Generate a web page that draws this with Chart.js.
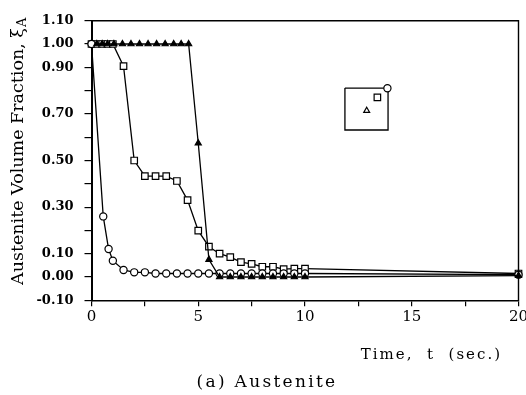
<!DOCTYPE html>
<html><head><meta charset="utf-8">
<script src="https://cdn.jsdelivr.net/npm/chart.js@4.4.0/dist/chart.umd.min.js"></script>
<style>html,body{margin:0;padding:0;background:#fff}#wrap{width:526px;height:395px;position:relative}</style>
</head><body><div id="wrap"><canvas id="c"></canvas></div>
<script>
// ---- data (time in seconds, austenite volume fraction) ----
const circleT = [0, 0.55, 0.8, 1.0, 1.5, 2.0, 2.5, 3.0, 3.5, 4.0, 4.5, 5.0, 5.5, 6.0, 6.5, 7.0, 7.5, 8.0, 8.5, 9.0, 9.5, 10.0, 20];
const circleV = [1.0, 0.26, 0.12, 0.07, 0.03, 0.02, 0.02, 0.015, 0.015, 0.015, 0.015, 0.015, 0.015, 0.015, 0.015, 0.015, 0.015, 0.015, 0.015, 0.015, 0.015, 0.015, 0.01];
const squareT = [0, 0.25, 0.5, 0.75, 1.0, 1.5, 2.0, 2.5, 3.0, 3.5, 4.0, 4.5, 5.0, 5.5, 6.0, 6.5, 7.0, 7.5, 8.0, 8.5, 9.0, 9.5, 10.0, 20];
const squareV = [1.0, 1.0, 1.0, 1.0, 1.0, 0.905, 0.50, 0.433, 0.433, 0.433, 0.412, 0.33, 0.199, 0.13, 0.10, 0.085, 0.064, 0.056, 0.044, 0.044, 0.034, 0.036, 0.036, 0.015];
const triT = [0.25, 0.5, 0.75, 1.05, 1.45, 1.85, 2.25, 2.65, 3.05, 3.45, 3.85, 4.2, 4.55, 5.0, 5.5, 6.0, 6.5, 7.0, 7.5, 8.0, 8.5, 9.0, 9.5, 10.0, 20];
const triV = [1.0, 1.0, 1.0, 1.0, 1.0, 1.0, 1.0, 1.0, 1.0, 1.0, 1.0, 1.0, 1.0, 0.574, 0.075, 0.0, 0.0, 0.0, 0.0, 0.0, 0.0, 0.0, 0.0, 0.0, 0.006];
// inset key box and its markers (in data coordinates)
const keyBoxT = [11.87, 13.89, 13.89, 11.87, 11.87];
const keyBoxV = [0.811, 0.811, 0.631, 0.631, 0.811];
const keyCircle = [13.86, 0.81];
const keySquare = [13.39, 0.771];
const keyTri = [12.89, 0.714];
// ticks
const yLabelled = [1.10, 1.00, 0.90, 0.70, 0.50, 0.30, 0.10, 0.00, -0.10];
const xLabelled = [0, 5, 10, 15, 20];
const yTitle = 'Austenite Volume Fraction, ξ';
const yTitleSub = 'A';
const xTitle = 'Time,  t  (sec.)';
const caption = '(a) Austenite';

const pts = (t, v) => t.map((x, i) => ({x, y: v[i]}));
const base = {showLine: true, borderColor: '#000', borderWidth: 1.3, pointBorderColor: '#000',
  pointBorderWidth: 1.2, tension: 0, clip: false};

Chart.defaults.font.family = 'DejaVu Serif';
Chart.defaults.color = '#000';

const textPlugin = {
  id: 'texts',
  afterDraw(chart) {
    const ctx = chart.ctx, a = chart.chartArea;
    ctx.save();
    ctx.strokeStyle = '#000';
    ctx.lineWidth = 1.4;
    ctx.beginPath();
    ctx.moveTo(a.left, a.top); ctx.lineTo(a.right, a.top); ctx.lineTo(a.right, a.bottom);
    ctx.stroke();
    ctx.fillStyle = '#000';
    // y title
    ctx.save();
    ctx.translate(23, 285);
    ctx.rotate(-Math.PI / 2);
    ctx.font = '17.5px "DejaVu Serif"';
    ctx.textAlign = 'left';
    ctx.textBaseline = 'alphabetic';
    ctx.fillText(yTitle, 0, 0);
    const w = ctx.measureText(yTitle).width;
    ctx.font = '13px "DejaVu Serif"';
    ctx.fillText(yTitleSub, w + 1, 3);
    ctx.restore();
    // x title
    ctx.font = '15px "DejaVu Serif"';
    try { ctx.letterSpacing = '2px'; } catch (e) {}
    ctx.textAlign = 'right';
    ctx.textBaseline = 'alphabetic';
    ctx.fillText(xTitle, 502, 358.5);
    // caption
    ctx.font = '17px "DejaVu Serif"';
    try { ctx.letterSpacing = '2.3px'; } catch (e) {}
    ctx.textAlign = 'center';
    ctx.fillText(caption, 267, 386.5);
    ctx.restore();
  }
};

new Chart(document.getElementById('c'), {
  type: 'scatter',
  data: {
    datasets: [
      {...base, order: 1, data: pts(circleT, circleV), pointStyle: 'circle', pointRadius: 3.6, pointBackgroundColor: '#fff'},
      {...base, order: 2, data: pts(squareT, squareV), pointStyle: 'rect', pointRadius: 4.6, pointBackgroundColor: '#fff'},
      {...base, order: 0, data: pts(triT, triV), pointStyle: 'triangle', pointRadius: 3.5, pointBackgroundColor: '#000'},
      {...base, order: 3, data: pts(keyBoxT, keyBoxV), pointRadius: 0},
      {...base, showLine: false, data: [{x: keyCircle[0], y: keyCircle[1]}], pointStyle: 'circle', pointRadius: 3.6, pointBackgroundColor: '#fff'},
      {...base, showLine: false, data: [{x: keySquare[0], y: keySquare[1]}], pointStyle: 'rect', pointRadius: 4.6, pointBackgroundColor: '#fff'},
      {...base, showLine: false, data: [{x: keyTri[0], y: keyTri[1]}], pointStyle: 'triangle', pointRadius: 3.4, pointBackgroundColor: '#fff'}
    ]
  },
  options: {
    responsive: true, maintainAspectRatio: false, animation: false,
    layout: {autoPadding: false, padding: {left: 0, right: 7.5, top: 20.7, bottom: 0}},
    plugins: {legend: {display: false}, tooltip: {enabled: false}, title: {display: false}},
    scales: {
      x: {
        type: 'linear', min: 0, max: 20,
        ticks: {stepSize: 2.5, autoSkip: false, maxRotation: 0, padding: 2,
          font: {size: 15},
          callback: v => xLabelled.includes(v) ? String(v) : ''},
        grid: {drawOnChartArea: false, drawTicks: true, tickLength: 6, color: '#000', lineWidth: 1.2},
        border: {color: '#000', width: 1.5},
        afterFit: s => { s.height = 94.7; s.paddingLeft = 0; s.paddingRight = 0; }
      },
      y: {
        type: 'linear', min: -0.1, max: 1.1,
        ticks: {stepSize: 0.1, autoSkip: false, padding: 11,
          font: {size: 13, weight: 'bold'},
          callback: v => {
            const r = Math.round(v * 100);
            return yLabelled.some(l => Math.round(l * 100) === r) ? (r / 100 === 0 ? '0.00' : (r / 100).toFixed(2)) : '';
          }},
        grid: {drawOnChartArea: false, drawTicks: true, tickLength: 7, color: '#000', lineWidth: 1.2},
        border: {color: '#000', width: 2},
        afterFit: s => { s.width = 91.5; s.paddingTop = 0; s.paddingBottom = 0; }
      }
    }
  },
  plugins: [textPlugin]
});
</script>
</body></html>
